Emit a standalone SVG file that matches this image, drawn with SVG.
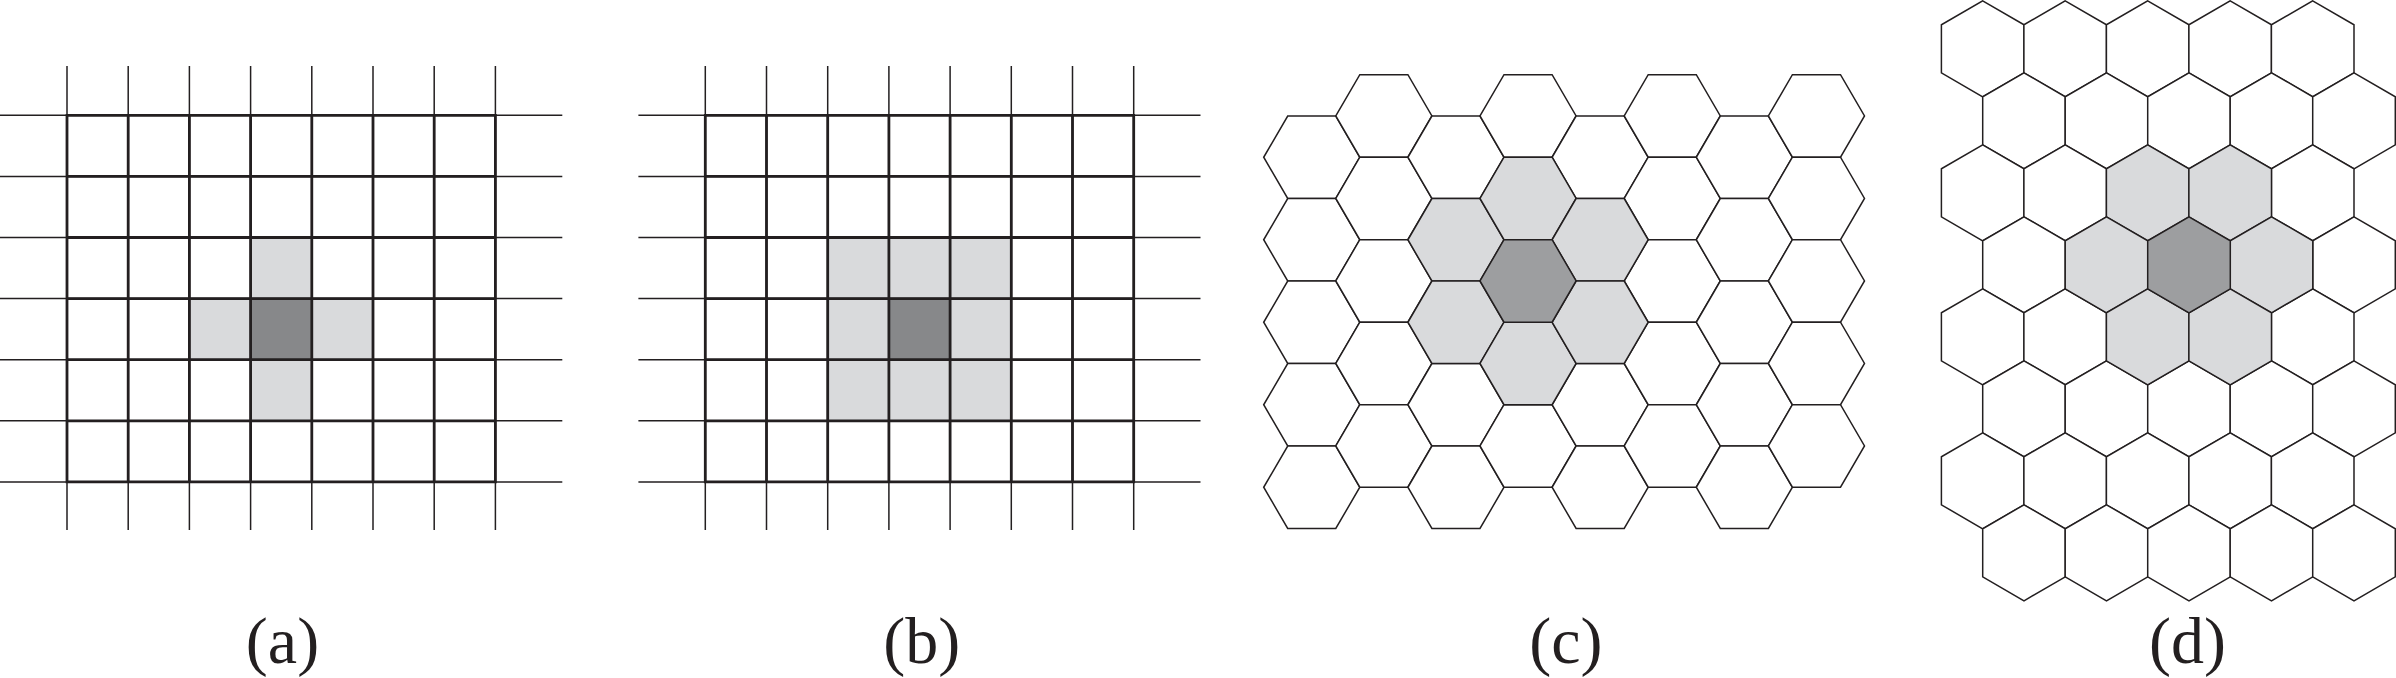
<svg xmlns="http://www.w3.org/2000/svg" xmlns:xlink="http://www.w3.org/1999/xlink" width="2396" height="678" viewBox="0 0 2396 678">
<style>
.thin{fill:none;stroke:#231f20;stroke-width:1.5}
.thick{fill:none;stroke:#231f20;stroke-width:2.8;stroke-linecap:square}
.light{fill:#d9dadc}
.dsq{fill:#87888a}
.hex{stroke:#231f20;stroke-width:1.5;stroke-linejoin:miter}
.w{fill:#ffffff}
.l{fill:#d9dadc}
.d{fill:#9d9ea0}
.lbl{font-family:"Liberation Serif","Times New Roman",serif;font-size:66px;fill:#231f20;text-anchor:middle}
</style>
<defs>
<polygon id="hf" points="0,41.25 24,0 72.1,0 96.1,41.25 72.1,82.5 24,82.5"/>
<polygon id="hp" points="41.3,0 82.6,24 82.6,72 41.3,96 0,72 0,24"/>
</defs>
<rect width="2396" height="678" fill="#ffffff"/>

<g id="panel-a">
<rect class="light" x="250.6" y="237.5" width="61.2" height="61.1"/>
<rect class="light" x="250.6" y="359.7" width="61.2" height="61.1"/>
<rect class="light" x="189.4" y="298.6" width="61.2" height="61.1"/>
<rect class="light" x="311.8" y="298.6" width="61.2" height="61.1"/>
<rect class="dsq" x="250.6" y="298.6" width="61.2" height="61.1"/>
<path class="thin" d="M67 66V530M128.2 66V530M189.4 66V530M250.6 66V530M311.8 66V530M373 66V530M434.2 66V530M495.4 66V530M0 115.3H562.3M0 176.4H562.3M0 237.5H562.3M0 298.6H562.3M0 359.7H562.3M0 420.8H562.3M0 481.9H562.3"/>
<path class="thick" d="M67 115.3V481.9M128.2 115.3V481.9M189.4 115.3V481.9M250.6 115.3V481.9M311.8 115.3V481.9M373 115.3V481.9M434.2 115.3V481.9M495.4 115.3V481.9M67 115.3H495.4M67 176.4H495.4M67 237.5H495.4M67 298.6H495.4M67 359.7H495.4M67 420.8H495.4M67 481.9H495.4"/>
<text class="lbl" x="282.5" y="663">(a)</text>
</g>

<g id="panel-b">
<rect class="light" x="827.7" y="237.5" width="183.6" height="183.3"/>
<rect class="dsq" x="888.9" y="298.6" width="61.2" height="61.1"/>
<path class="thin" d="M705.3 66V530M766.5 66V530M827.7 66V530M888.9 66V530M950.1 66V530M1011.3 66V530M1072.5 66V530M1133.7 66V530M638.4 115.3H1200.5M638.4 176.4H1200.5M638.4 237.5H1200.5M638.4 298.6H1200.5M638.4 359.7H1200.5M638.4 420.8H1200.5M638.4 481.9H1200.5"/>
<path class="thick" d="M705.3 115.3V481.9M766.5 115.3V481.9M827.7 115.3V481.9M888.9 115.3V481.9M950.1 115.3V481.9M1011.3 115.3V481.9M1072.5 115.3V481.9M1133.7 115.3V481.9M705.3 115.3H1133.7M705.3 176.4H1133.7M705.3 237.5H1133.7M705.3 298.6H1133.7M705.3 359.7H1133.7M705.3 420.8H1133.7M705.3 481.9H1133.7"/>
<text class="lbl" x="921.7" y="663">(b)</text>
</g>

<g id="panel-c" class="hex">
<use href="#hf" class="w" x="1263.7" y="116"/>
<use href="#hf" class="w" x="1263.7" y="198.5"/>
<use href="#hf" class="w" x="1263.7" y="281"/>
<use href="#hf" class="w" x="1263.7" y="363.5"/>
<use href="#hf" class="w" x="1263.7" y="446"/>
<use href="#hf" class="w" x="1335.8" y="74.7"/>
<use href="#hf" class="w" x="1335.8" y="157.2"/>
<use href="#hf" class="w" x="1335.8" y="239.7"/>
<use href="#hf" class="w" x="1335.8" y="322.2"/>
<use href="#hf" class="w" x="1335.8" y="404.7"/>
<use href="#hf" class="w" x="1407.9" y="116"/>
<use href="#hf" class="w" x="1407.9" y="363.5"/>
<use href="#hf" class="w" x="1407.9" y="446"/>
<use href="#hf" class="w" x="1480" y="74.7"/>
<use href="#hf" class="w" x="1480" y="404.7"/>
<use href="#hf" class="w" x="1552.1" y="116"/>
<use href="#hf" class="w" x="1552.1" y="363.5"/>
<use href="#hf" class="w" x="1552.1" y="446"/>
<use href="#hf" class="w" x="1624.2" y="74.7"/>
<use href="#hf" class="w" x="1624.2" y="157.2"/>
<use href="#hf" class="w" x="1624.2" y="239.7"/>
<use href="#hf" class="w" x="1624.2" y="322.2"/>
<use href="#hf" class="w" x="1624.2" y="404.7"/>
<use href="#hf" class="w" x="1696.3" y="116"/>
<use href="#hf" class="w" x="1696.3" y="198.5"/>
<use href="#hf" class="w" x="1696.3" y="281"/>
<use href="#hf" class="w" x="1696.3" y="363.5"/>
<use href="#hf" class="w" x="1696.3" y="446"/>
<use href="#hf" class="w" x="1768.4" y="74.7"/>
<use href="#hf" class="w" x="1768.4" y="157.2"/>
<use href="#hf" class="w" x="1768.4" y="239.7"/>
<use href="#hf" class="w" x="1768.4" y="322.2"/>
<use href="#hf" class="w" x="1768.4" y="404.7"/>
<use href="#hf" class="l" x="1407.9" y="198.5"/>
<use href="#hf" class="l" x="1407.9" y="281"/>
<use href="#hf" class="l" x="1480" y="157.2"/>
<use href="#hf" class="l" x="1480" y="322.2"/>
<use href="#hf" class="l" x="1552.1" y="198.5"/>
<use href="#hf" class="l" x="1552.1" y="281"/>
<use href="#hf" class="d" x="1480" y="239.7"/>
</g>
<text class="lbl" x="1565.8" y="663">(c)</text>

<g id="panel-d" class="hex">
<use href="#hp" class="w" x="1941.4" y="0.8"/>
<use href="#hp" class="w" x="2023.9" y="0.8"/>
<use href="#hp" class="w" x="2106.4" y="0.8"/>
<use href="#hp" class="w" x="2188.9" y="0.8"/>
<use href="#hp" class="w" x="2271.4" y="0.8"/>
<use href="#hp" class="w" x="1982.7" y="72.8"/>
<use href="#hp" class="w" x="2065.2" y="72.8"/>
<use href="#hp" class="w" x="2147.7" y="72.8"/>
<use href="#hp" class="w" x="2230.2" y="72.8"/>
<use href="#hp" class="w" x="2312.7" y="72.8"/>
<use href="#hp" class="w" x="1941.4" y="144.8"/>
<use href="#hp" class="w" x="2023.9" y="144.8"/>
<use href="#hp" class="w" x="2271.4" y="144.8"/>
<use href="#hp" class="w" x="1982.7" y="216.8"/>
<use href="#hp" class="w" x="2312.7" y="216.8"/>
<use href="#hp" class="w" x="1941.4" y="288.8"/>
<use href="#hp" class="w" x="2023.9" y="288.8"/>
<use href="#hp" class="w" x="2271.4" y="288.8"/>
<use href="#hp" class="w" x="1982.7" y="360.8"/>
<use href="#hp" class="w" x="2065.2" y="360.8"/>
<use href="#hp" class="w" x="2147.7" y="360.8"/>
<use href="#hp" class="w" x="2230.2" y="360.8"/>
<use href="#hp" class="w" x="2312.7" y="360.8"/>
<use href="#hp" class="w" x="1941.4" y="432.8"/>
<use href="#hp" class="w" x="2023.9" y="432.8"/>
<use href="#hp" class="w" x="2106.4" y="432.8"/>
<use href="#hp" class="w" x="2188.9" y="432.8"/>
<use href="#hp" class="w" x="2271.4" y="432.8"/>
<use href="#hp" class="w" x="1982.7" y="504.8"/>
<use href="#hp" class="w" x="2065.2" y="504.8"/>
<use href="#hp" class="w" x="2147.7" y="504.8"/>
<use href="#hp" class="w" x="2230.2" y="504.8"/>
<use href="#hp" class="w" x="2312.7" y="504.8"/>
<use href="#hp" class="l" x="2106.4" y="144.8"/>
<use href="#hp" class="l" x="2188.9" y="144.8"/>
<use href="#hp" class="l" x="2065.2" y="216.8"/>
<use href="#hp" class="l" x="2230.2" y="216.8"/>
<use href="#hp" class="l" x="2106.4" y="288.8"/>
<use href="#hp" class="l" x="2188.9" y="288.8"/>
<use href="#hp" class="d" x="2147.7" y="216.8"/>
</g>
<text class="lbl" x="2187.5" y="663">(d)</text>
</svg>
